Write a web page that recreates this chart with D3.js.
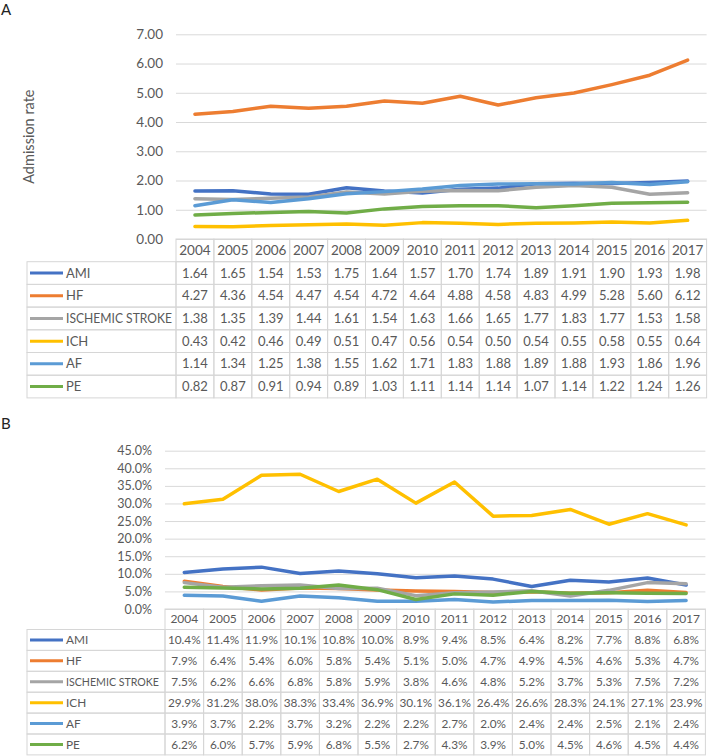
<!DOCTYPE html>
<html>
<head>
<meta charset="utf-8">
<script src="https://cdn.jsdelivr.net/npm/d3@7"></script>
<style>
  html, body { margin: 0; padding: 0; background: #fff; }
  svg { display: block; font-family: Lato, "Open Sans", sans-serif; }
</style>
</head>
<body>
<svg id="chart" width="708" height="756"></svg>
<script>
// ---------- DATA ----------
const years = [2004, 2005, 2006, 2007, 2008, 2009, 2010, 2011, 2012, 2013, 2014, 2015, 2016, 2017];
const seriesNames = ["AMI", "HF", "ISCHEMIC STROKE", "ICH", "AF", "PE"];
const seriesColors = ["#4472C4", "#ED7D31", "#A5A5A5", "#FFC000", "#5B9BD5", "#70AD47"];

// Panel A: admission rate
const rateAMI = [1.64, 1.65, 1.54, 1.53, 1.75, 1.64, 1.57, 1.70, 1.74, 1.89, 1.91, 1.90, 1.93, 1.98];
const rateHF  = [4.27, 4.36, 4.54, 4.47, 4.54, 4.72, 4.64, 4.88, 4.58, 4.83, 4.99, 5.28, 5.60, 6.12];
const rateIS  = [1.38, 1.35, 1.39, 1.44, 1.61, 1.54, 1.63, 1.66, 1.65, 1.77, 1.83, 1.77, 1.53, 1.58];
const rateICH = [0.43, 0.42, 0.46, 0.49, 0.51, 0.47, 0.56, 0.54, 0.50, 0.54, 0.55, 0.58, 0.55, 0.64];
const rateAF  = [1.14, 1.34, 1.25, 1.38, 1.55, 1.62, 1.71, 1.83, 1.88, 1.89, 1.88, 1.93, 1.86, 1.96];
const ratePE  = [0.82, 0.87, 0.91, 0.94, 0.89, 1.03, 1.11, 1.14, 1.14, 1.07, 1.14, 1.22, 1.24, 1.26];
const ticksA = [0, 1, 2, 3, 4, 5, 6, 7];

// Panel B: percentages
const pctAMI = [10.4, 11.4, 11.9, 10.1, 10.8, 10.0, 8.9, 9.4, 8.5, 6.4, 8.2, 7.7, 8.8, 6.8];
const pctHF  = [7.9, 6.4, 5.4, 6.0, 5.8, 5.4, 5.1, 5.0, 4.7, 4.9, 4.5, 4.6, 5.3, 4.7];
const pctIS  = [7.5, 6.2, 6.6, 6.8, 5.8, 5.9, 3.8, 4.6, 4.8, 5.2, 3.7, 5.3, 7.5, 7.2];
const pctICH = [29.9, 31.2, 38.0, 38.3, 33.4, 36.9, 30.1, 36.1, 26.4, 26.6, 28.3, 24.1, 27.1, 23.9];
const pctAF  = [3.9, 3.7, 2.2, 3.7, 3.2, 2.2, 2.2, 2.7, 2.0, 2.4, 2.4, 2.5, 2.1, 2.4];
const pctPE  = [6.2, 6.0, 5.7, 5.9, 6.8, 5.5, 2.7, 4.3, 3.9, 5.0, 4.5, 4.6, 4.5, 4.4];
const ticksB = [0, 5, 10, 15, 20, 25, 30, 35, 40, 45];

// ---------- DRAW ----------
const svg = d3.select("#chart");
const textColor = "#595959";
const gridColor = "#d9d9d9";
const borderColor = "#d6d6d6";

function drawPanel(cfg) {
  const g = svg.append("g");
  const x = d3.scaleBand().domain(years).range([cfg.x0, cfg.x0 + cfg.colW * years.length]).padding(0);
  const y = d3.scaleLinear().domain(cfg.domain).range([cfg.yBottom, cfg.yTop]);
  const xRight = x.range()[1];

  // panel letter
  g.append("text").attr("x", 1).attr("y", cfg.letterY)
    .attr("font-size", 15).attr("fill", "#222").text(cfg.letter);

  // gridlines
  const grid = g.append("g").attr("transform", `translate(${cfg.x0},0)`)
    .call(d3.axisLeft(y).tickValues(cfg.ticks).tickSize(-(xRight - cfg.x0)).tickFormat(""));
  grid.select(".domain").remove();
  grid.selectAll(".tick line").attr("stroke", gridColor).attr("stroke-width", 1);

  // tick labels
  const ax = g.append("g").attr("transform", `translate(${cfg.labelX},0)`)
    .call(d3.axisLeft(y).tickValues(cfg.ticks).tickSize(0).tickPadding(0).tickFormat(cfg.tickFmt));
  ax.select(".domain").remove();
  ax.selectAll(".tick text").attr("fill", textColor).attr("font-size", cfg.tickFont)
    .attr("font-family", "Lato, sans-serif");

  // y title
  if (cfg.yTitle) {
    g.append("text")
      .attr("transform", `translate(${cfg.yTitleX},${(cfg.yTop + cfg.yBottom) / 2}) rotate(-90)`)
      .attr("text-anchor", "middle").attr("fill", textColor).attr("font-size", 14.5)
      .text(cfg.yTitle);
  }

  // lines
  const line = d3.line()
    .x((d, i) => x(years[i]) + x.bandwidth() / 2)
    .y(d => y(d));
  cfg.series.forEach((vals, k) => {
    g.append("path").datum(vals)
      .attr("d", line).attr("fill", "none")
      .attr("stroke", seriesColors[k]).attr("stroke-width", 3.5)
      .attr("stroke-linejoin", "round").attr("stroke-linecap", "round");
  });

  // table
  const t = g.append("g");
  const headTop = cfg.yBottom;
  const rowH = cfg.rowH;
  const headBottom = headTop + cfg.headH;

  years.forEach(yr => {
    t.append("rect").attr("x", x(yr)).attr("y", headTop)
      .attr("width", x.bandwidth()).attr("height", cfg.headH)
      .attr("fill", "none").attr("stroke", borderColor);
    t.append("text").attr("x", x(yr) + x.bandwidth() / 2).attr("y", headTop + cfg.headH / 2)
      .attr("dy", "0.35em").attr("text-anchor", "middle")
      .attr("fill", textColor).attr("font-size", cfg.headFont).text(yr);
  });

  seriesNames.forEach((name, k) => {
    const ry = headBottom + k * rowH;
    t.append("rect").attr("x", cfg.tableLeft).attr("y", ry)
      .attr("width", cfg.x0 - cfg.tableLeft).attr("height", rowH)
      .attr("fill", "none").attr("stroke", borderColor);
    t.append("line").attr("x1", cfg.tableLeft + 3).attr("x2", cfg.tableLeft + 36)
      .attr("y1", ry + rowH / 2).attr("y2", ry + rowH / 2)
      .attr("stroke", seriesColors[k]).attr("stroke-width", 3);
    const lbl = t.append("text").attr("x", cfg.tableLeft + 39).attr("y", ry + rowH / 2)
      .attr("dy", "0.35em").attr("fill", textColor).attr("font-size", cfg.cellFont)
      .text(name);
    const maxW = cfg.x0 - (cfg.tableLeft + 39) - cfg.labelGap;
    if (lbl.node().getComputedTextLength() > maxW) {
      lbl.attr("textLength", maxW).attr("lengthAdjust", "spacingAndGlyphs");
    }
    cfg.series[k].forEach((v, i) => {
      t.append("rect").attr("x", x(years[i])).attr("y", ry)
        .attr("width", x.bandwidth()).attr("height", rowH)
        .attr("fill", "none").attr("stroke", borderColor);
      t.append("text").attr("x", x(years[i]) + x.bandwidth() / 2).attr("y", ry + rowH / 2)
        .attr("dy", "0.35em").attr("text-anchor", "middle")
        .attr("fill", textColor).attr("font-size", cfg.cellFont)
        .text(cfg.valFmt(v));
    });
  });
}

drawPanel({
  letter: "A", letterY: 15,
  series: [rateAMI, rateHF, rateIS, rateICH, rateAF, ratePE],
  domain: [0, 7], ticks: ticksA, tickFmt: d3.format(".2f"),
  valFmt: d3.format(".2f"),
  x0: 176, colW: 37.9, yTop: 34.3, yBottom: 239,
  labelX: 163, tickFont: 13.5,
  yTitle: "Admission rate", yTitleX: 34,
  tableLeft: 27, headH: 22.7, rowH: 22.7, labelGap: 4,
  headFont: 13.5, cellFont: 13
});

drawPanel({
  letter: "B", letterY: 429,
  series: [pctAMI, pctHF, pctIS, pctICH, pctAF, pctPE],
  domain: [0, 45], ticks: ticksB, tickFmt: d => d3.format(".1f")(d) + "%",
  valFmt: d => d3.format(".1f")(d) + "%",
  x0: 165, colW: 38.6, yTop: 450.7, yBottom: 609,
  labelX: 152, tickFont: 12.5,
  yTitle: null,
  tableLeft: 27, headH: 20.5, rowH: 20.9, labelGap: 6,
  headFont: 12, cellFont: 11.8
});
</script>
</body>
</html>
